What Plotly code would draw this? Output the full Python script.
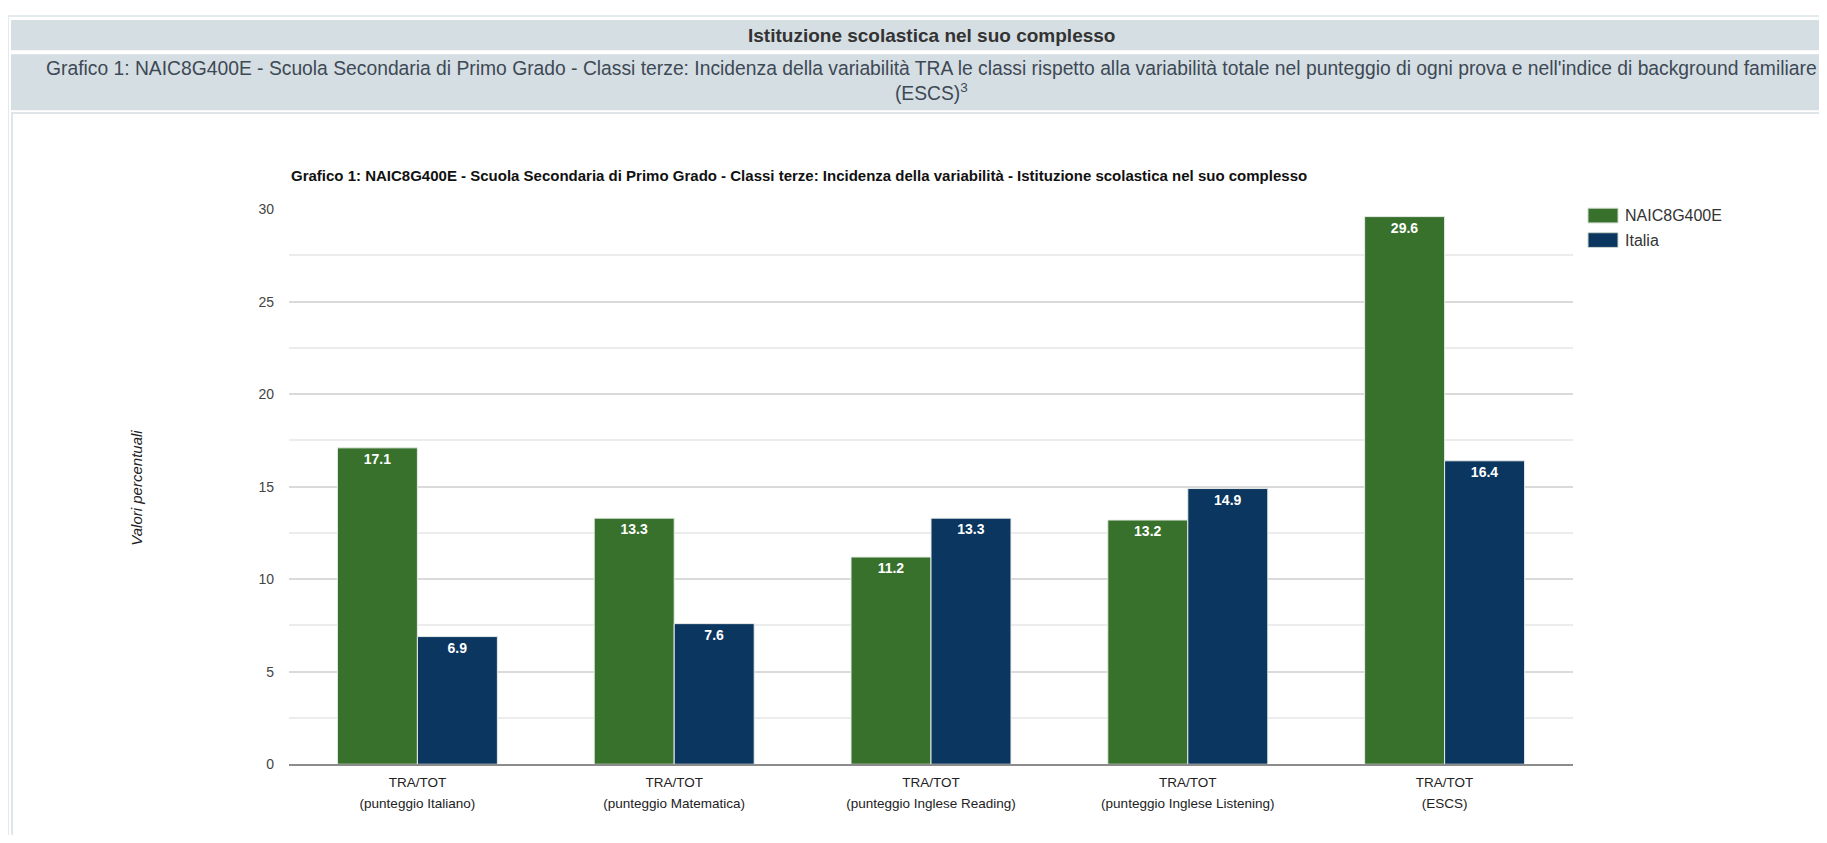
import plotly.graph_objects as go

# page body has an 8px margin: figure origin is at (8, 8) of the window;
# figure sized so that the page does not overflow the 1827x843 window
OFF = 8
W, H = 1827 - 2 * OFF, 843 - 2 * OFF

categories = [
    "TRA/TOT<br>(punteggio Italiano)",
    "TRA/TOT<br>(punteggio Matematica)",
    "TRA/TOT<br>(punteggio Inglese Reading)",
    "TRA/TOT<br>(punteggio Inglese Listening)",
    "TRA/TOT<br>(ESCS)",
]
school_name = "NAIC8G400E"
school_values = [17.1, 13.3, 11.2, 13.2, 29.6]
italy_name = "Italia"
italy_values = [6.9, 7.6, 13.3, 14.9, 16.4]
y_ticks = [0, 5, 10, 15, 20, 25, 30]

GREEN = "#38712c"
BLUE = "#0b365f"
BAND = "#d5dee3"
FONT = "Liberation Sans, Arial"


def px(x):
    return (x - OFF) / W


def py(y):
    return 1 - (y - OFF) / H


tick_text = ["<span style='font-size:13.5px'>" + c + "</span>" for c in categories]

fig = go.Figure()
for name, vals, col in [(school_name, school_values, GREEN), (italy_name, italy_values, BLUE)]:
    fig.add_trace(go.Bar(
        x=categories, y=vals, name=name,
        marker=dict(color=col, line=dict(color="#e8ece8", width=1)),
        text=[f"{v:.1f}" for v in vals],
        textposition="inside", insidetextanchor="end",
        textfont=dict(family=FONT, size=14, color="white"),
        texttemplate="<b>%{text}</b>",
        textangle=0,
        showlegend=False,
    ))

shapes = []
annotations = []

# outer frame
shapes.append(dict(type="rect", xref="paper", yref="paper", x0=px(8), x1=px(1850), y0=py(860), y1=py(8),
                   line=dict(color="#e3eaee", width=2), fillcolor="rgba(0,0,0,0)", layer="below"))
# header band 1
shapes.append(dict(type="rect", xref="paper", yref="paper", x0=px(11), x1=px(1850), y0=py(43), y1=py(12),
                   line=dict(width=0), fillcolor=BAND, layer="below"))
# header band 2
shapes.append(dict(type="rect", xref="paper", yref="paper", x0=px(11), x1=px(1850), y0=py(104), y1=py(47),
                   line=dict(width=0), fillcolor=BAND, layer="below"))
# chart box
shapes.append(dict(type="rect", xref="paper", yref="paper", x0=px(12), x1=px(1850), y0=py(870), y1=py(107),
                   line=dict(color="#dfe6ea", width=2), fillcolor="white", layer="below"))

annotations.append(dict(xref="paper", yref="paper", x=px(931), y=py(27.5), xanchor="center", yanchor="middle",
                        text="<b>Istituzione scolastica nel suo complesso</b>", showarrow=False,
                        font=dict(family=FONT, size=19, color="#333333")))
annotations.append(dict(xref="paper", yref="paper", x=px(931), y=py(74), xanchor="center", yanchor="middle",
                        text=("Grafico 1: NAIC8G400E - Scuola Secondaria di Primo Grado - Classi terze: Incidenza della "
                              "variabilità TRA le classi rispetto alla variabilità totale nel punteggio di ogni prova e "
                              "nell'indice di background familiare<br>(ESCS)<sup>3</sup>"),
                        showarrow=False, align="center",
                        font=dict(family=FONT, size=19.3, color="#3d4955")))
annotations.append(dict(xref="paper", yref="paper", x=px(289), y=py(171), xanchor="left", yanchor="middle",
                        text=("<b>Grafico 1: NAIC8G400E - Scuola Secondaria di Primo Grado - Classi terze: Incidenza "
                              "della variabilità - Istituzione scolastica nel suo complesso</b>"),
                        showarrow=False,
                        font=dict(family=FONT, size=15, color="#111111")))
annotations.append(dict(xref="paper", yref="paper", x=px(137), y=py(489), xanchor="center", yanchor="middle",
                        text="<i>Valori percentuali</i>", textangle=-90, showarrow=False,
                        font=dict(family=FONT, size=15, color="#222222")))

# legend
for i, (name, col) in enumerate([(school_name, GREEN), (italy_name, BLUE)]):
    y0 = 204 + i * 25
    shapes.append(dict(type="rect", xref="paper", yref="paper", x0=px(1588), x1=px(1618), y0=py(y0 + 15), y1=py(y0),
                       line=dict(color="#cfd8cf", width=1), fillcolor=col))
    annotations.append(dict(xref="paper", yref="paper", x=px(1623), y=py(y0 + 7.5), xanchor="left", yanchor="middle",
                            text=name, showarrow=False,
                            font=dict(family=FONT, size=16, color="#333333")))

fig.update_layout(
    width=W, height=H,
    margin=dict(l=0, r=0, t=0, b=0),
    paper_bgcolor="white", plot_bgcolor="white",
    barmode="group", bargap=0.377, bargroupgap=0.0,
    shapes=shapes, annotations=annotations,
    font=dict(family=FONT, color="#333333"),
    xaxis=dict(domain=[px(289), px(1573)], showgrid=False, showline=True, linecolor="#8c8c8c", linewidth=2,
               ticks="", tickmode="array", tickvals=categories, ticktext=tick_text,
               tickfont=dict(size=16, color="#222222"), ticklabelstandoff=2, fixedrange=True),
    yaxis=dict(domain=[py(771), py(205)], range=[0, 30], tickvals=y_ticks, showgrid=True,
               gridcolor="#dadada", gridwidth=2, zeroline=False, showline=False, ticks="",
               ticklabelstandoff=14, tickfont=dict(size=14, color="#444444"),
               minor=dict(dtick=2.5, showgrid=True, gridcolor="#ececec", gridwidth=1.5), fixedrange=True),
)

fig.write_html("out.html")
